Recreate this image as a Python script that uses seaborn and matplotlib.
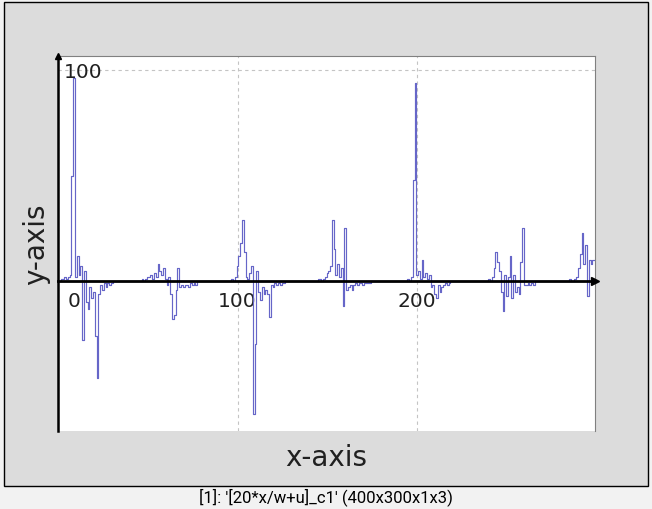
import numpy as np
import pandas as pd
import matplotlib
matplotlib.use("Agg")
import matplotlib.pyplot as plt
import seaborn as sns
from matplotlib.patches import Rectangle
from matplotlib.transforms import ScaledTranslation

# signal values (everything else sits on 0)
n_points = 300

c1_start = 2
c1_vals = [1, 1, 2, 1, 2, 3, 50, 96, 2, 12, 3, 7, -28, 5, -10, -13, -3, -8, -5, -26,
           -46, -6, -2, -4, -1, -3, -1, -2, -1]
c2_start = 47
c2_vals = [1, 0, 1, 2, 2, 3, 1, 4, 2, 8, 5, 3, 6, 1, -2, 2, -6, -18, -16, -4, 6, -3,
           -2, -3, -2, -2, -3, -1, -2, -1, -2]
c3_start = 97
c3_vals = [1, 0, 2, 7, 12, 18, 29, 14, 2, 1, 4, 7, -63, -30, 5, -5, -9, -3, -6, -4,
           -6, -17, -2, -3, -1, -2, -1, -2, -1, -1]
c4_start = 145
c4_vals = [1, 1, 0, 1, 2, 4, 5, 7, 29, 15, 3, 8, 2, 6, -12, 25, -4, -3, -2, -4, -2,
           -1, -2, -1, -1, -2, -1, -1, -1, -1]
c5_start = 195
c5_vals = [1, 0, 2, 48, 94, 3, 5, 1, 10, 2, 4, 1, 3, -3, -2, -6, -8, -2, -5, -3, -2,
           -1, -2, -1]
c6_start = 240
c6_vals = [1, 0, 2, 6, 14, 9, 5, -5, -14, 3, -7, 2, 12, -8, 3, -5, -3, -6, 9, 25, -2,
           -2, -1, -2, -1, -2]
c7_start = 285
c7_vals = [1, 0, 0, 1, 2, 6, 13, 23, 8, 17, -7, 10, 8, 10, 10]

x_ticks = [0, 100, 200]
y_ticks = [100]
caption = "[1]: '[20*x/w+u]_c1' (400x300x1x3)"

signal = np.zeros(n_points)
for start, vals in [(c1_start, c1_vals), (c2_start, c2_vals), (c3_start, c3_vals),
                    (c4_start, c4_vals), (c5_start, c5_vals), (c6_start, c6_vals),
                    (c7_start, c7_vals)]:
    signal[start:start + len(vals)] = vals

df = pd.DataFrame({"x": np.arange(n_points), "y": signal})

sns.set_style("white")
plt.rcParams["font.family"] = ["DejaVu Sans"]

W, H = 652, 510
fig = plt.figure(figsize=(W / 100, H / 100), dpi=100)
fig.patch.set_facecolor("#f2f2f2")

# grey frame around the graph
fig.add_artist(Rectangle((4 / W, (H - 487) / H), 644 / W, 484 / H,
                         transform=fig.transFigure, facecolor="#dcdcdc",
                         edgecolor="black", linewidth=1.0, zorder=0))

ax = fig.add_axes([58 / W, (H - 432) / H, (595 - 58) / W, (432 - 57) / H])
ax.set_facecolor("white")

sns.lineplot(data=df, x="x", y="y", ax=ax, color="#6666c8", linewidth=0.85,
             drawstyle="steps-mid", zorder=3)

ax.set_xlim(0, 299)
ax.set_ylim(-71, 106.6)

ax.set_xticks(x_ticks)
ax.set_yticks(y_ticks)
ax.grid(True, color="#c4c4c4", linestyle=(0, (3, 3)), linewidth=0.8)
ax.set_axisbelow(True)

# axes like the CImg display: x axis on y=0, y axis on the left, arrows
ax.spines["bottom"].set_position(("data", 0))
ax.spines["bottom"].set_color("black")
ax.spines["bottom"].set_linewidth(2)
ax.spines["bottom"].set_zorder(4)
ax.spines["left"].set_color("black")
ax.spines["left"].set_linewidth(1.8)
ax.spines["top"].set_color("#808080")
ax.spines["right"].set_color("#808080")
ax.plot([1], [0], marker=">", color="black", markersize=6,
        transform=ax.get_yaxis_transform(), clip_on=False, zorder=5)
ax.plot([0], [1], marker="^", color="black", markersize=5,
        transform=ax.get_xaxis_transform(), clip_on=False, zorder=5)

ax.tick_params(axis="x", direction="inout", length=4, width=1, pad=5,
               labelsize=14.5, labelcolor="#202020")
ax.tick_params(axis="y", direction="inout", length=4, width=1, pad=-6,
               labelsize=14.5, labelcolor="#202020")
for lab in ax.get_yticklabels():
    lab.set_horizontalalignment("left")
first = ax.get_xticklabels()[0]
first.set_transform(first.get_transform() + ScaledTranslation(0.16, 0, fig.dpi_scale_trans))

ax.set_xlabel("x-axis", fontsize=20, color="#202020")
ax.xaxis.set_label_coords(0.5, -0.032)
ax.set_ylabel("y-axis", fontsize=20, color="#202020")
ax.yaxis.set_label_coords(-0.04, 0.5)
ax.yaxis.label.set_verticalalignment("center")

fig.text(0.5, (H - 497) / H, caption, ha="center", va="center", fontsize=12,
         family=["Roboto", "DejaVu Sans"], color="black")

fig.savefig("out.png", dpi=100, facecolor=fig.get_facecolor())
